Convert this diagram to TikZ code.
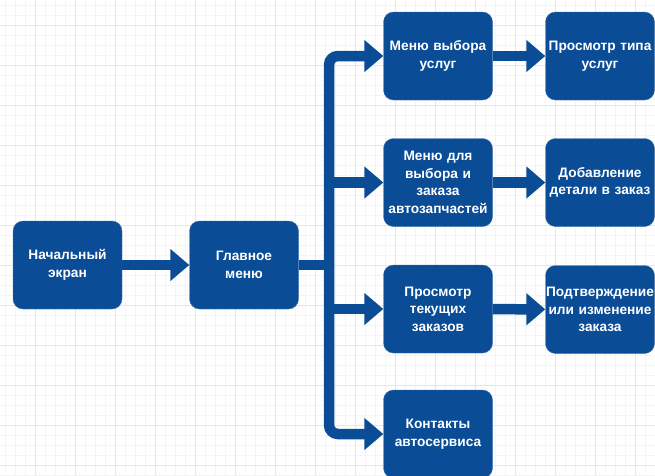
\documentclass[tikz,border=0pt]{standalone}
\usepackage{fontspec}
\setmainfont{Liberation Sans}
\usetikzlibrary{arrows.meta}
\definecolor{BoxBlue}{HTML}{0A4C96}
\definecolor{BoxEdge}{HTML}{3F74B0}
\definecolor{GridMinor}{HTML}{F4F4F4}
\definecolor{GridMajor}{HTML}{E6E6E6}

\begin{document}
\begin{tikzpicture}[x=1pt, y=-1pt,
  block/.style={draw=BoxEdge, fill=BoxBlue, rounded corners=10pt,
    minimum width=109pt, minimum height=88pt, inner sep=0pt,
    text width=109pt, align=center, text=white,
    font=\bfseries\fontsize{13.7}{17.5}\selectfont},
  flow/.style={BoxBlue, line width=10.5pt,
    -{Triangle[length=19pt 0 0, width=31pt 0 0]}},
  trunk/.style={BoxBlue, line width=10.5pt}]
  \useasboundingbox (0,0) rectangle (655,475);
  \fill[white] (0,0) rectangle (655,475);
  \foreach \gx in {5,15,...,655} \draw[GridMinor, line width=0.8pt] (\gx,0) -- (\gx,475);
  \foreach \gy in {5,15,...,475} \draw[GridMinor, line width=0.8pt] (0,\gy) -- (655,\gy);
  \foreach \gx in {35,75,...,655} \draw[GridMajor, line width=0.9pt] (\gx,0) -- (\gx,475);
  \foreach \gy in {25,65,...,475} \draw[GridMajor, line width=0.9pt] (0,\gy) -- (655,\gy);

  \node[block] (start) at (67.5,265) {Начальный\\экран};
  \node[block] (main) at (244,265) {Главное\\меню};

  \node[block] (services) at (438,56) {Меню выбора\\услуг};
  \node[block] (parts) at (438,182.5) {Меню для\\выбора и\\заказа\\автозапчастей};
  \node[block] (orders) at (438,309) {Просмотр\\текущих\\заказов};
  \node[block] (contacts) at (438,434) {Контакты\\автосервиса};

  \node[block] (types) at (600,56) {Просмотр типа\\услуг};
  \node[block] (addpart) at (600,182.5) {Добавление\\детали в заказ};
  \node[block] (confirm) at (600,309.5) {Подтверждение\\или изменение\\заказа};

  \coordinate (bus) at (329,265);

  \draw[flow] (start) -- (main);
  \draw[trunk] (main.east) -- (bus);
  \draw[flow, rounded corners=9pt] (bus) |- (services.west);
  \draw[flow, rounded corners=9pt] (bus) |- (contacts.west);
  \draw[flow] (bus |- parts.west) -- (parts.west);
  \draw[flow] (bus |- orders.west) -- (orders.west);

  \draw[flow] (services) -- (types);
  \draw[flow] (parts) -- (addpart);
  \draw[flow] (orders) -- (confirm);
\end{tikzpicture}
\end{document}
